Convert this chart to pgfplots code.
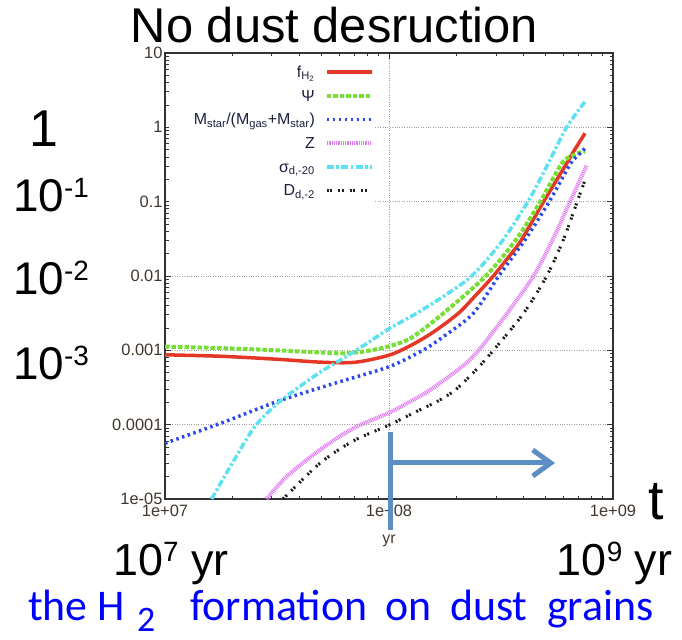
\documentclass[border=0pt]{standalone}
\usepackage{fontspec}
\setmainfont{Liberation Sans}
\newfontfamily\calibri{Carlito}
\usepackage{pgfplots}
\pgfplotsset{compat=1.18}
\usetikzlibrary{arrows.meta}

\definecolor{redc}{RGB}{228,55,38}
\definecolor{greenc}{RGB}{118,222,52}
\definecolor{bluec}{RGB}{40,72,235}
\definecolor{magc}{RGB}{222,125,240}
\definecolor{cyanc}{RGB}{92,225,240}
\definecolor{blackc}{RGB}{30,30,30}
\definecolor{arrowc}{RGB}{92,142,196}
\definecolor{tickc}{RGB}{64,56,46}
\definecolor{legc}{RGB}{28,32,62}

\begin{document}
\begin{tikzpicture}
\path[use as bounding box] (-165bp,-141bp) rectangle (517bp,499bp);
\begin{axis}[
  at={(0bp,0bp)}, anchor=south west,
  scale only axis, width=448bp, height=446bp,
  xmode=log, ymode=log,
  xmin=1e7, xmax=1e9, ymin=1e-5, ymax=10,
  xtick={1e7,1e8,1e9}, xticklabels={1e+07,1e+08,1e+09},
  ytick={1e-5,1e-4,1e-3,1e-2,1e-1,1,10},
  yticklabels={1e-05,0.0001,0.001,0.01,0.1,1,10},
  /pgf/number format/assume math mode=true,
  tick label style={font=\fontsize{16.5}{18}\selectfont, text=tickc},
  yticklabel style={xshift=1bp},
  xticklabel style={yshift=-2bp},
  xlabel={yr},
  xlabel style={font=\fontsize{16}{18}\selectfont, text=tickc, yshift=-12bp},
  grid=major,
  major grid style={dotted, gray!75, line width=0.9bp},
  axis line style={line width=1.3bp, black!80},
  every tick/.style={black!80, line width=0.8bp},
  major tick length=6bp, minor tick length=3.5bp,
  legend plot pos=right,
  legend cell align=right,
  legend style={at={(0.4665,0.984)}, anchor=north east, draw=none, fill=white,
    inner sep=0bp, column sep=10bp, font=\fontsize{16}{18}\selectfont, text=legc,
    nodes={text width=146bp, align=right, inner sep=0bp, text height=17bp, text depth=6.7bp}},
  legend image code/.code={\draw[#1] (0bp,0bp) -- (45bp,0bp);},
]
% f_H2
\addplot[redc, line width=3.5bp, smooth] coordinates {
  (1e7,8.71e-4) (1.778e7,8.32e-4) (3.162e7,7.59e-4) (5.012e7,6.92e-4) (7.079e7,6.92e-4)
  (1e8,8.61e-4) (1.259e8,1.175e-3) (1.585e8,1.778e-3) (2.042e8,3.162e-3) (2.455e8,5.623e-3)
  (2.884e8,9.55e-3) (3.388e8,1.738e-2) (3.890e8,3.02e-2) (4.898e8,0.1) (6.166e8,0.3162)
  (6.653e8,0.4677) (7.499e8,0.8318)
};
\addlegendentry{f\textsubscript{H\textsubscript{2}}}
% Psi
\addplot[greenc, line width=4bp, dash pattern=on 4.5bp off 2bp, smooth] coordinates {
  (1e7,1.122e-3) (1.778e7,1.072e-3) (3.162e7,1.0e-3) (5.012e7,9.33e-4) (6.310e7,9.12e-4)
  (7.943e7,9.77e-4) (1e8,1.135e-3) (1.259e8,1.479e-3) (1.750e8,3.162e-3) (2.704e8,1e-2)
  (3.715e8,3.162e-2) (4.732e8,0.1) (5.902e8,0.3273) (6.607e8,0.4169) (7.079e8,0.4571)
  (7.499e8,0.4677)
};
\addlegendentry{Ψ}
% Mstar/(Mgas+Mstar)
\addplot[bluec, line width=3.5bp, dash pattern=on 2.5bp off 3.5bp, smooth] coordinates {
  (1e7,5.623e-5) (1.778e7,1.047e-4) (3.162e7,2.042e-4) (5.623e7,3.548e-4) (1e8,6.026e-4)
  (1.413e8,1e-3) (1.778e8,1.585e-3) (2.382e8,3.162e-3) (3.090e8,1e-2) (4.074e8,3.162e-2)
  (5.188e8,0.1) (6.427e8,0.3162) (7.079e8,0.4365) (7.638e8,0.5495)
};
\addlegendentry{M\textsubscript{star}/(M\textsubscript{gas}+M\textsubscript{star})}
% Z
\addplot[magc, line width=4bp, dash pattern=on 1bp off 0.8bp, smooth] coordinates {
  (2.844e7,1e-5) (3.491e7,2.0e-5) (4.909e7,4.571e-5) (6.918e7,8.913e-5) (1e8,1.445e-4)
  (1.259e8,2.089e-4) (1.524e8,2.917e-4) (1.995e8,5.248e-4) (2.291e8,7.413e-4) (2.594e8,1.122e-3)
  (2.951e8,1.862e-3) (3.412e8,3.311e-3) (4.416e8,1e-2) (5.370e8,3.041e-2) (6.427e8,0.1)
  (7.638e8,0.3112)
};
\addlegendentry{Z}
% sigma_d,-20
\addplot[cyanc, line width=3.5bp, dash pattern=on 7bp off 2.5bp on 2.5bp off 2.5bp, smooth] coordinates {
  (1.614e7,1e-5) (1.995e7,3.02e-5) (2.512e7,9.33e-5) (3.162e7,1.905e-4) (3.981e7,3.236e-4)
  (5.012e7,5.248e-4) (6.310e7,7.943e-4) (7.943e7,1.230e-3) (1e8,1.950e-3) (1.330e8,3.162e-3)
  (1.778e8,5.495e-3) (2.339e8,1e-2) (3.162e8,2.818e-2) (4.169e8,0.1) (5.012e8,0.2818)
  (6.209e8,1.0) (7.499e8,2.213)
};
\addlegendentry{σ\textsubscript{d,-20}}
% D_d,-2
\addplot[blackc, line width=3bp, dash pattern=on 2bp off 1.5bp on 2bp off 6bp, smooth] coordinates {
  (3.365e7,1e-5) (4.909e7,3.020e-5) (6.918e7,6.026e-5) (1.009e8,1e-4) (1.374e8,1.585e-4)
  (1.660e8,2.089e-4) (1.972e8,2.917e-4) (2.399e8,5.129e-4) (2.924e8,1e-3) (3.981e8,3.133e-3)
  (5.058e8,1e-2) (6.026e8,3.162e-2) (6.918e8,0.1) (7.499e8,0.1954)
};
\addlegendentry{D\textsubscript{d,-2}}
\end{axis}

% slide annotations
\node[anchor=base, inner sep=0bp, font=\fontsize{49}{51}\selectfont] at (169.5bp,456bp) {No dust desruction};
\node[anchor=base, inner sep=0bp, font=\fontsize{52}{54}\selectfont] at (-121bp,352.3bp) {1};
\node[anchor=base west, inner sep=0bp, font=\fontsize{46}{48}\selectfont] at (-152bp,287.3bp) {10\raisebox{14bp}{\fontsize{28}{30}\selectfont -1}};
\node[anchor=base west, inner sep=0bp, font=\fontsize{46}{48}\selectfont] at (-152bp,204bp) {10\raisebox{14bp}{\fontsize{28}{30}\selectfont -2}};
\node[anchor=base west, inner sep=0bp, font=\fontsize{46}{48}\selectfont] at (-152bp,119bp) {10\raisebox{14bp}{\fontsize{28}{30}\selectfont -3}};
\node[anchor=base west, inner sep=0bp, font=\fontsize{56}{58}\selectfont] at (483bp,-20bp) {t};
\node[anchor=base west, inner sep=0bp, font=\fontsize{45}{47}\selectfont] at (-52bp,-76bp) {10\raisebox{14bp}{\fontsize{28}{30}\selectfont 7} yr};
\node[anchor=base west, inner sep=0bp, font=\fontsize{45}{47}\selectfont] at (391.7bp,-76bp) {10\raisebox{14bp}{\fontsize{28}{30}\selectfont 9} yr};

% arrow
\draw[arrowc, line width=5bp] (225bp,67bp) -- (225bp,-31bp);
\draw[arrowc, line width=5bp, -{Straight Barb[length=18bp, width=26bp]}] (225bp,36bp) -- (390bp,36bp);

% blue caption
\begin{scope}[every node/.style={anchor=base west, inner sep=0bp, text=blue, font=\calibri\fontsize{44}{46}\selectfont}]
\node at (-137bp,-121bp) {the};
\node at (-68bp,-121bp) {H};
\node[font=\calibri\fontsize{36}{38}\selectfont] at (-28bp,-132bp) {2};
\node at (25bp,-121bp) {formation};
\node at (220bp,-121bp) {on};
\node at (285bp,-121bp) {dust};
\node at (382bp,-121bp) {grains};
\end{scope}
\end{tikzpicture}
\end{document}
